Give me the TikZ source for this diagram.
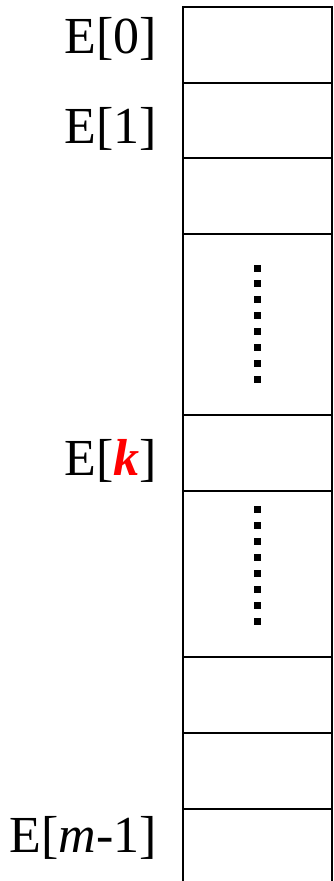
\documentclass[tikz,border=0pt]{standalone}
\usepackage{fontspec}
\setmainfont{Liberation Serif}
\begin{document}
\begin{tikzpicture}[x=1pt,y=-1pt,
  cell/.style={draw,line width=2pt,minimum width=149pt,inner sep=0pt,anchor=north west},
  lbl/.style={anchor=base east,inner sep=0pt,font=\fontsize{52}{60}\selectfont},
  dotsq/.style={fill=black,minimum size=7pt,inner sep=0pt}]
\useasboundingbox (0,0) rectangle (333,881);
\node[cell,minimum height=76pt] (c0) at (182,6) {};
\node[cell,minimum height=75pt] (c1) at (182,82) {};
\node[cell,minimum height=76pt] (c2) at (182,157) {};
\node[cell,minimum height=181pt] (c3) at (182,233) {};
\node[cell,minimum height=76pt] (c4) at (182,414) {};
\node[cell,minimum height=166pt] (c5) at (182,490) {};
\node[cell,minimum height=76pt] (c6) at (182,656) {};
\node[cell,minimum height=76pt] (c7) at (182,732) {};
\node[cell,minimum height=100pt] (c8) at (182,808) {};
\node[lbl] (l0) at (157,53) {E[0]};
\node[lbl] (l1) at (157,143) {E[1]};
\node[lbl] (lk) at (157,475) {E[\textcolor{red}{\textbf{\textit{k}}}]};
\node[lbl] (lm) at (157,852) {E[\textit{m}-1]};
\foreach \i in {0,...,7}{
  \node[dotsq] (da\i) at (257,268+15.9*\i) {};
  \node[dotsq] (db\i) at (257,509.7+15.9*\i) {};
}
\end{tikzpicture}
\end{document}
